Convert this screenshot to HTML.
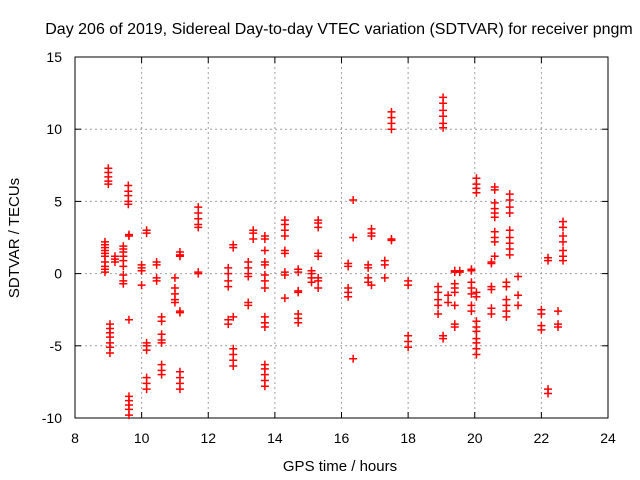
<!DOCTYPE html>
<html><head><meta charset="utf-8"><style>
body{margin:0;background:#fff;}
svg{display:block;font-family:"Liberation Sans",sans-serif;}
</style></head><body>
<svg id="chart" width="640" height="480">
<text x="339" y="34" font-size="16" text-anchor="middle">Day 206 of 2019, Sidereal Day-to-day VTEC variation (SDTVAR) for receiver pngm</text>
<g id="grid"></g><g id="axes"></g><g id="marks"></g>
<text x="340" y="471" font-size="15" text-anchor="middle">GPS time / hours</text>
<text transform="translate(19,238) rotate(-90)" font-size="15" text-anchor="middle">SDTVAR / TECUs</text>
</svg>
<script>
const xTicks=[8,10,12,14,16,18,20,22,24];
const yTicks=[-10,-5,0,5,10,15];
const clusterTimes=[8.9,9.0,9.05,9.2,9.45,9.6,9.62,10.0,10.15,10.45,10.6,11.0,11.15,11.7,12.6,12.75,13.2,13.35,13.7,14.3,14.7,15.1,15.3,16.2,16.35,16.8,16.9,17.3,17.5,18.0,18.9,19.05,19.2,19.4,19.55,19.9,20.05,20.5,20.6,20.95,21.05,21.3,22.0,22.2,22.5,22.65];
const clusterValues=[
[2.2,2.0,1.8,1.6,1.4,1.2,0.8,0.5,0.3,0.1],
[7.3,7.0,6.7,6.4,6.2],
[-3.5,-3.8,-4.1,-4.4,-4.8,-5.1,-5.5],
[1.0,1.2,0.8],
[1.9,1.7,1.5,1.2,0.9,0.5,-0.1,-0.5,-0.7],
[6.1,5.7,5.4,5.0,4.8],
[2.7,2.6,-3.2,-8.5,-8.8,-9.1,-9.4,-9.8],
[0.6,0.4,0.2,-0.8],
[3.0,2.8,-4.8,-5.0,-5.3,-7.2,-7.6,-8.0],
[0.8,0.6,-0.3,-0.5],
[-3.0,-3.3,-4.2,-4.6,-4.8,-6.3,-6.7,-7.0],
[-0.3,-1.0,-1.4,-1.8,-2.0],
[1.5,1.3,1.2,-2.6,-2.7,-6.8,-7.2,-7.6,-8.0],
[4.6,4.2,3.8,3.4,3.2,0.1,0.0],
[0.4,0.0,-0.5,-0.9,-3.2,-3.5],
[2.0,1.8,-5.2,-5.6,-6.0,-6.4,-3.0],
[0.8,0.4,0.0,-0.2,-2.2,-2.0],
[3.0,2.8,2.4],
[2.6,2.4,0.8,0.6,1.6,-0.1,-0.5,-1.0,-3.0,-3.4,-3.7,-6.3,-6.6,-7.0,-7.4,-7.8],
[0.1,-0.1,-1.7,3.7,3.4,3.0,2.6,1.6,1.4],
[0.3,0.1,-1.3,-1.2,-2.8,-3.1,-3.4],
[0.0,-0.3,-0.6,0.2],
[3.7,3.5,3.2,1.4,1.2,-0.5,-1.0,-0.3],
[0.7,0.5,-1.0,-1.3,-1.6],
[5.1,2.5,-5.9],
[0.6,0.4,-0.3,-0.6],
[3.1,2.8,2.6,-0.8],
[0.9,0.6,-0.3],
[11.2,10.8,10.4,10.0,2.4,2.3],
[-0.5,-0.8,-4.3,-4.7,-5.1],
[-0.9,-1.3,-1.8,-2.2,-2.8],
[12.2,11.8,11.3,10.9,10.4,10.1,-4.3,-4.5],
[-1.5,-2.0],
[0.2,0.1,-0.7,-1.0,-1.3,-2.2,-3.5,-3.7],
[0.1,0.2],
[0.3,0.2,-0.6,-1.0,-1.4,-2.2,-2.6],
[6.6,6.2,5.9,5.6,-3.3,-3.7,-4.0,-4.5,-4.8,-5.2,-5.6,-1.3,-1.6],
[0.8,0.7,-0.9,-1.1,-2.4,-2.8],
[6.0,5.8,4.9,4.5,4.2,3.9,2.9,2.5,2.2,1.2],
[-0.6,-0.9,-1.8,-2.2,-2.6,-3.0],
[5.5,5.1,4.6,4.2,3.0,2.5,2.1,1.7,1.3],
[-0.2,-1.5,-2.2],
[-2.5,-2.8,-3.6,-3.9],
[1.1,0.9,-8.0,-8.3],
[-2.6,-3.5,-3.7],
[3.6,3.2,2.6,2.2,1.6,1.2,0.9]
];
const L=75,R=608,T=57,B=418;
function xs(v){return L+(v-8)/16*(R-L);}
function ys(v){return B-(v+10)/25*(B-T);}
const NS="http://www.w3.org/2000/svg";
function mk(tag,attrs,parent){const e=document.createElementNS(NS,tag);for(const k in attrs)e.setAttribute(k,attrs[k]);parent.appendChild(e);return e;}
const grid=document.getElementById('grid'),axes=document.getElementById('axes'),marks=document.getElementById('marks');
xTicks.forEach(t=>{const x=xs(t);
 if(t>8&&t<24){const g=mk('line',{x1:x,x2:x,y1:T,y2:B,stroke:'#a0a0a0','stroke-dasharray':'2,3'},grid);
 
 }
 mk('line',{x1:x,x2:x,y1:B,y2:B-6,stroke:'#000'},axes);
 mk('line',{x1:x,x2:x,y1:T,y2:T+6,stroke:'#000'},axes);
 const lb=mk('text',{x:x,y:B+25,'font-size':14,'text-anchor':'middle'},axes);lb.textContent=t;
 
 
});
yTicks.forEach(t=>{const y=ys(t);
 if(t>-10&&t<15){const g=mk('line',{x1:L,x2:R,y1:y,y2:y,stroke:'#a0a0a0','stroke-dasharray':'2,3'},grid);
 
 }
 mk('line',{x1:L,x2:L+6,y1:y,y2:y,stroke:'#000'},axes);
 mk('line',{x1:R,x2:R-6,y1:y,y2:y,stroke:'#000'},axes);
 const lb=mk('text',{x:L-13,y:y+5,'font-size':14,'text-anchor':'end'},axes);lb.textContent=t;
 
 
});
const fr=mk('rect',{x:L,y:T,width:R-L,height:B-T,fill:'none',stroke:'#000'},axes);


clusterTimes.forEach((t,i)=>{clusterValues[i].forEach(v=>{
 const x=xs(t),y=ys(v);
 const p=mk('path',{d:`M${x-4},${y}H${x+4}M${x},${y-4}V${y+4}`,stroke:'#ff0000','stroke-width':1.5,fill:'none'},marks);
 
 
});});
</script>
</body></html>
